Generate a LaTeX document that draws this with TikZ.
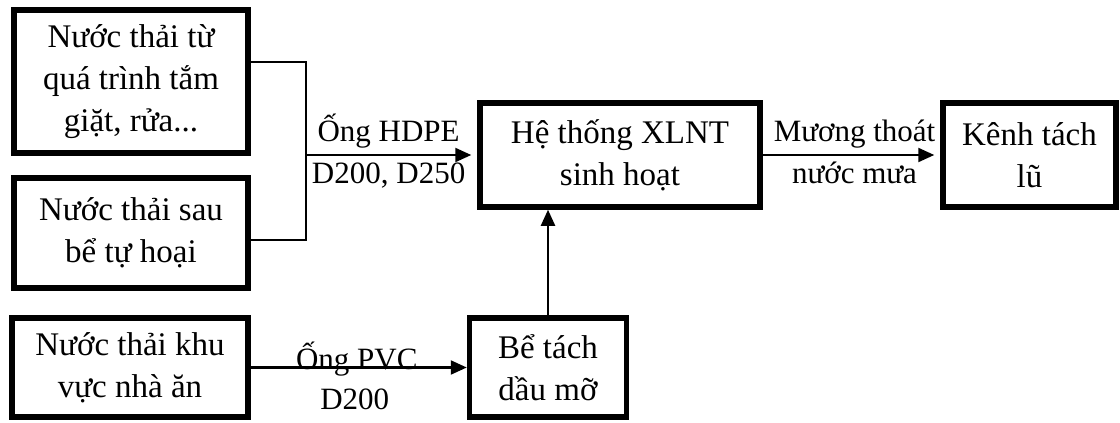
\documentclass[tikz,border=0pt]{standalone}
\usepackage{fontspec}
\setmainfont{Liberation Serif}
\usetikzlibrary{arrows.meta}
\begin{document}
\begin{tikzpicture}[x=1pt,y=-1pt,
  box/.style={draw, line width=5.5pt, align=center, inner sep=0pt,
    font=\fontsize{33}{42}\selectfont},
  conn/.style={line width=2.2pt},
  arr/.style={conn, -{Triangle[length=16pt,width=14pt]}},
  lbl/.style={font=\fontsize{31}{42}\selectfont, inner sep=5pt, text height=22pt, text depth=7pt}]
\useasboundingbox (0,0) rectangle (1120,423);
\node[box, minimum width=234pt, minimum height=143pt] (b1) at (131,81.5)
  {Nước thải từ\\quá trình tắm\\giặt, rửa...};
\node[box, minimum width=234pt, minimum height=110pt] (b2) at (131,233)
  {Nước thải sau\\bể tự hoại};
\node[box, minimum width=236pt, minimum height=99pt] (b3) at (130,367.5)
  {Nước thải khu\\vực nhà ăn};
\node[box, minimum width=280pt, minimum height=104pt] (xl) at (620,155)
  {Hệ thống XLNT\\sinh hoạt};
\node[box, minimum width=157pt, minimum height=99pt] (be) at (548,367.5)
  {Bể tách\\dầu mỡ};
\node[box, minimum width=173pt, minimum height=104pt] (ke) at (1029.5,155)
  {Kênh tách\\lũ};
\coordinate (j1) at (306,62);
\coordinate (j2) at (306,240);
\coordinate (jm) at (306,155);
\draw[conn] (b1.east |- j1) -- (j1) -- (j2) -- (b2.east |- j2);
\draw[arr, shorten >=6pt] (jm) -- node[lbl, above, xshift=-3pt] {Ống HDPE} node[lbl, below, xshift=-3pt] {D200, D250} (xl.west);
\draw[arr, shorten >=6pt] (xl.east) -- node[lbl, above, xshift=3pt] {Mương thoát} node[lbl, below, xshift=3pt] {nước mưa} (ke.west);
\draw[arr] (b3.east) -- node[lbl, above, yshift=-15pt, xshift=-2pt] {Ống PVC} node[lbl, below, yshift=-14pt, xshift=-4pt] {D200} (be.west);
\draw[arr] (be.north) -- (be.north |- xl.south);
\end{tikzpicture}
\end{document}
